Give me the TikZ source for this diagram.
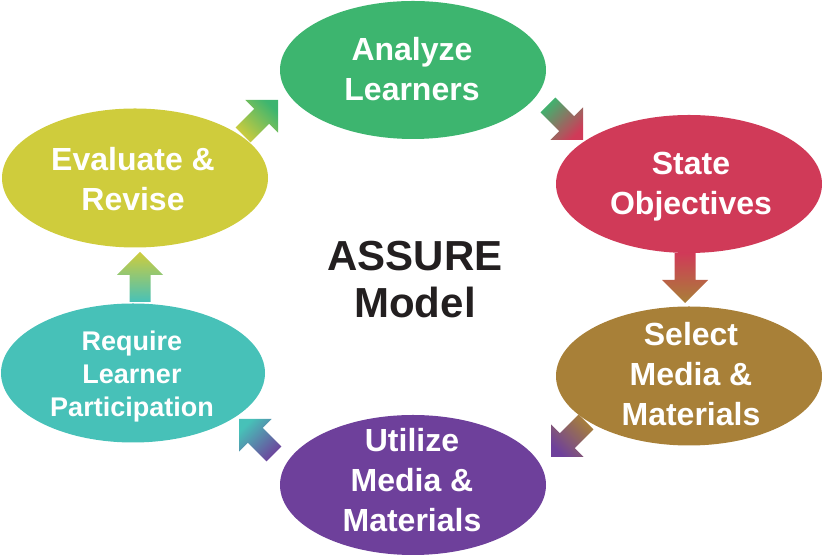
\documentclass[tikz,border=0pt]{standalone}
\usepackage{fontspec}
\setmainfont{Liberation Sans}
\usetikzlibrary{shapes.geometric,calc}
\definecolor{cAna}{HTML}{3DB56F}
\definecolor{cSta}{HTML}{D03A58}
\definecolor{cSel}{HTML}{A88038}
\definecolor{cUti}{HTML}{6E409B}
\definecolor{cReq}{HTML}{47C1B8}
\definecolor{cEva}{HTML}{CFCC3C}
\definecolor{cTxt}{HTML}{231F20}
% tail, tip, source colour, target colour, direction angle, shading angle
\newcommand\blockarrow[6]{%
  \shade[top color=#4, bottom color=#3, shading angle=#6]
    ($(#1)+(#5-90:10.5pt)$)
    -- ($(#2)+(#5+180:23pt)+(#5-90:10.5pt)$)
    -- ($(#2)+(#5+180:23pt)+(#5-90:23pt)$)
    -- (#2)
    -- ($(#2)+(#5+180:23pt)+(#5+90:23pt)$)
    -- ($(#2)+(#5+180:23pt)+(#5+90:10.5pt)$)
    -- ($(#1)+(#5+90:10.5pt)$) -- cycle;}
\tikzset{
  stage/.style={ellipse, draw=none, inner sep=0pt, minimum width=266pt, minimum height=138pt},
  stagetext/.style={text=white, align=center, font=\bfseries\fontsize{32}{40}\selectfont, inner sep=0pt},
  smalltext/.style={stagetext, font=\bfseries\fontsize{27}{33}\selectfont},
  titletext/.style={text=cTxt, align=center, font=\bfseries\fontsize{42}{47}\selectfont, inner sep=0pt}
}
\begin{document}
\begin{tikzpicture}[x=1pt,y=1pt]
\useasboundingbox (0,0) rectangle (822,556);
% stages
\node[stage, fill=cAna] (ana) at (413,486) {};
\node[stage, fill=cSta] (sta) at (689,372) {};
\node[stage, fill=cSel, minimum height=139pt] (sel) at (689,180) {};
\node[stage, fill=cUti, minimum height=140pt] (uti) at (413,71) {};
\node[stage, fill=cReq, minimum height=139pt, minimum width=264pt] (req) at (133,183) {};
\node[stage, fill=cEva, minimum height=139pt] (eva) at (135,378) {};
% labels
\node[stagetext] (anat) at (412,487) {Analyze\\Learners};
\node[stagetext] (stat) at (691,369) {State\\Objectives};
\node[stagetext] (selt) at (691,182) {Select\\Media \&\\Materials};
\node[stagetext] (utit) at (412,76) {Utilize\\Media \&\\Materials};
\node[smalltext] (reqt) at (132,179) {Require\\Learner\\Participation};
\node[stagetext] (evat) at (133,377) {Evaluate \&\\Revise};
\node[titletext] (title) at (415,276) {ASSURE\\Model};
% arrow end points
\coordinate (a1s) at (243,421); \coordinate (a1e) at (278,456);
\coordinate (a2s) at (548,451); \coordinate (a2e) at (583,416);
\coordinate (a3s) at (685,303); \coordinate (a3e) at (685,253);
\coordinate (a4s) at (586,134); \coordinate (a4e) at (551,99);
\coordinate (a5s) at (274,102); \coordinate (a5e) at (239,137);
\coordinate (a6s) at (140,254); \coordinate (a6e) at (140,304);
% arrows
\blockarrow{a1s}{a1e}{cEva}{cAna}{45}{-45}
\blockarrow{a2s}{a2e}{cAna}{cSta}{-45}{-135}
\blockarrow{a3s}{a3e}{cSta}{cSel}{-90}{180}
\blockarrow{a4s}{a4e}{cSel}{cUti}{-135}{135}
\blockarrow{a5s}{a5e}{cUti}{cReq}{135}{45}
\blockarrow{a6s}{a6e}{cReq}{cEva}{90}{0}
\end{tikzpicture}
\end{document}
